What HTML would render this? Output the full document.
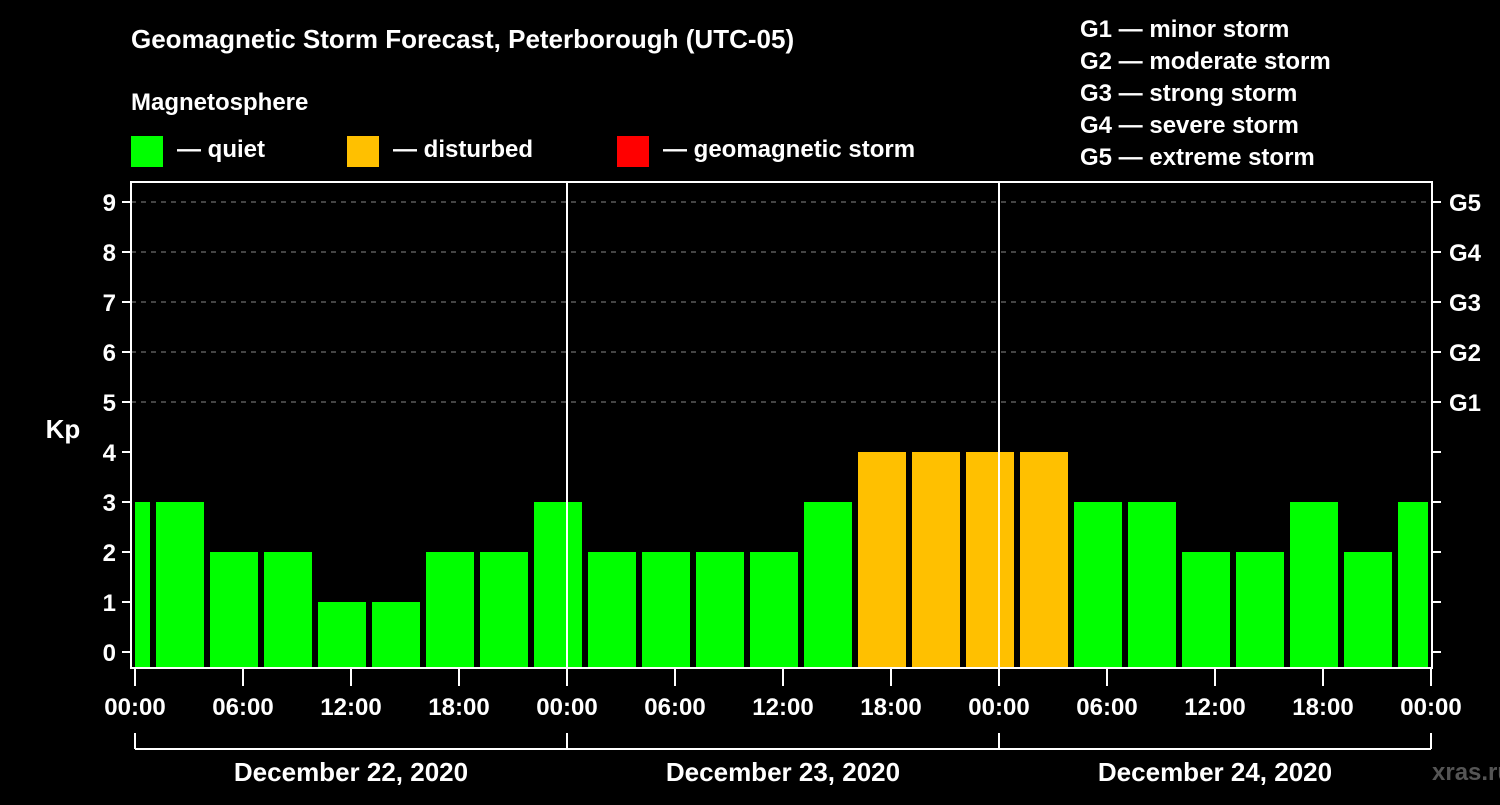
<!DOCTYPE html>
<html><head><meta charset="utf-8"><style>
body{margin:0;background:#000;width:1500px;height:800px;overflow:hidden}
svg text{font-family:"Liberation Sans",Arial,sans-serif;font-weight:bold;fill:#fff}
</style></head><body>
<svg id="chart" width="1500" height="800" xmlns="http://www.w3.org/2000/svg">
<text x="131" y="48" font-size="26">Geomagnetic Storm Forecast, Peterborough (UTC-05)</text>
<text x="131" y="110" font-size="24">Magnetosphere</text>
<g><rect x="131" y="136" width="32" height="31" fill="#00ff00"/><text x="177" y="157" font-size="24">— quiet</text></g>
<g><rect x="347" y="136" width="32" height="31" fill="#ffc000"/><text x="393" y="157" font-size="24">— disturbed</text></g>
<g><rect x="617" y="136" width="32" height="31" fill="#ff0000"/><text x="663" y="157" font-size="24">— geomagnetic storm</text></g>
<g font-size="24">
<text x="1080" y="37">G1 — minor storm</text>
<text x="1080" y="69">G2 — moderate storm</text>
<text x="1080" y="101">G3 — strong storm</text>
<text x="1080" y="133">G4 — severe storm</text>
<text x="1080" y="165">G5 — extreme storm</text>
</g>
<text x="63" y="438" font-size="26" text-anchor="middle">Kp</text>
<text x="1432" y="780" font-size="24" fill="#555" style="fill:#555">xras.ru</text>
<g id="grid"></g><g id="bars"></g><g id="axes"></g>
</svg>
<script>
const slotStartHours=[-2,1,4,7,10,13,16,19,22,25,28,31,34,37,40,43,46,49,52,55,58,61,64,67,70];
const kpValues=[3,3,2,2,1,1,2,2,3,2,2,2,2,3,4,4,4,4,3,3,2,2,3,2,3];
const yTicks=[0,1,2,3,4,5,6,7,8,9];
const gLabels=["G1","G2","G3","G4","G5"];
const xTickLabels=["00:00","06:00","12:00","18:00","00:00","06:00","12:00","18:00","00:00","06:00","12:00","18:00","00:00"];
const dayLabels=["December 22, 2020","December 23, 2020","December 24, 2020"];
const NS="http://www.w3.org/2000/svg";
const L=131,R=1432,T=182,B=668;
const x=h=>135+h*18;
const y=v=>652-v*50;
function mk(tag,at,parent){const e=document.createElementNS(NS,tag);for(const k in at)e.setAttribute(k,at[k]);parent.appendChild(e);return e;}
const grid=document.getElementById('grid'),bars=document.getElementById('bars'),axes=document.getElementById('axes');
for(let v=5;v<=9;v++){const l=mk('line',{x1:L,x2:R,y1:y(v),y2:y(v),stroke:'#888','stroke-dasharray':'5,5','stroke-width':1},grid);

}
slotStartHours.forEach((s,i)=>{const v=kpValues[i];
let x1=Math.max(x(s)+3,x(0)),x2=Math.min(x(s+3)-3,x(72)-3);
const c=v>=5?'#ff0000':(v>=4?'#ffc000':'#00ff00');
const r=mk('rect',{x:x1,y:y(v),width:x2-x1,height:B-y(v),fill:c},bars);

});
[24,48].forEach(h=>{const l=mk('line',{x1:x(h),x2:x(h),y1:T,y2:B,stroke:'#fff','stroke-width':2},axes);

});
const fr=mk('rect',{x:L,y:T,width:R-L,height:B-T,fill:'none',stroke:'#fff','stroke-width':2},axes);


yTicks.forEach(v=>{mk('line',{x1:122,x2:L,y1:y(v),y2:y(v),stroke:'#fff','stroke-width':2},axes);
mk('line',{x1:R,x2:1441,y1:y(v),y2:y(v),stroke:'#fff','stroke-width':2},axes);
const t=mk('text',{x:116,y:y(v)+9,'font-size':24,'text-anchor':'end'},axes);t.textContent=v;

});
gLabels.forEach((g,i)=>{const t=mk('text',{x:1449,y:y(5+i)+9,'font-size':24},axes);t.textContent=g;

});
xTickLabels.forEach((s,i)=>{const h=i*6;mk('line',{x1:x(h),x2:x(h),y1:B,y2:686,stroke:'#fff','stroke-width':2},axes);
const t=mk('text',{x:x(h),y:715,'font-size':24,'text-anchor':'middle'},axes);t.textContent=s;

});
mk('line',{x1:x(0),x2:x(72),y1:749,y2:749,stroke:'#fff','stroke-width':2},axes);
[0,24,48,72].forEach(h=>mk('line',{x1:x(h),x2:x(h),y1:733,y2:749,stroke:'#fff','stroke-width':2},axes));
dayLabels.forEach((d,i)=>{const t=mk('text',{x:x(i*24+12),y:781,'font-size':26,'text-anchor':'middle'},axes);t.textContent=d;

});
</script>
</body></html>
